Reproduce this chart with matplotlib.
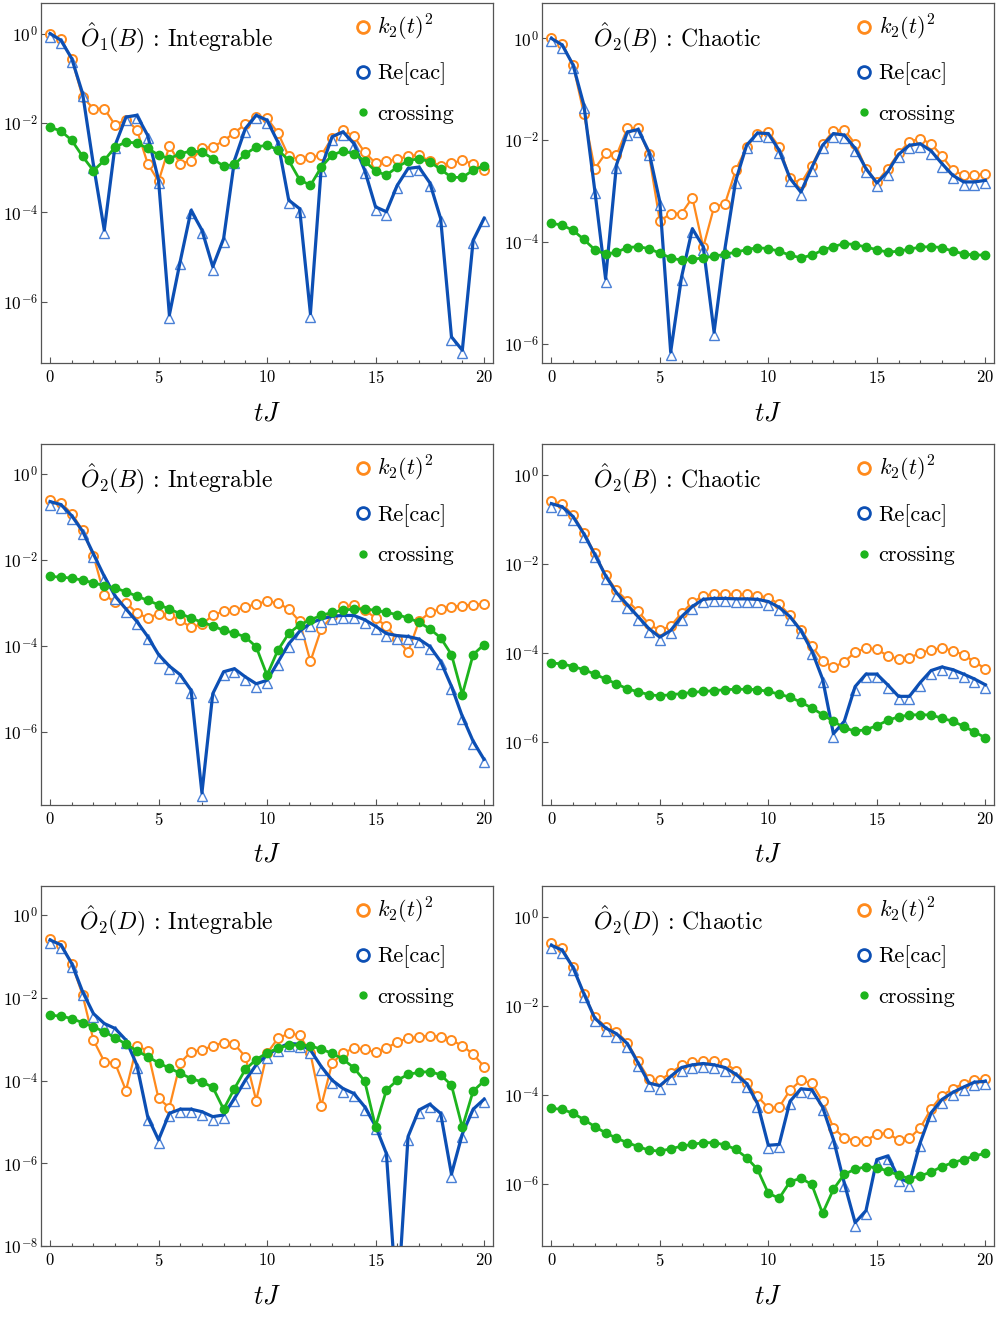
import numpy as np
import matplotlib
matplotlib.use("Agg")
import matplotlib.pyplot as plt
from matplotlib.lines import Line2D
from matplotlib.ticker import MultipleLocator, FixedLocator, LogFormatterMathtext, NullLocator
import matplotlib.transforms as mtransforms

plt.rcParams.update({
    "font.family": "serif",
    "font.serif": ["cmr10"],
    "mathtext.fontset": "cm",
    "axes.formatter.use_mathtext": True,
    "axes.unicode_minus": False,
})

# time grid tJ
t = [0.0, 0.5, 1.0, 1.5, 2.0, 2.5, 3.0, 3.5, 4.0, 4.5,
     5.0, 5.5, 6.0, 6.5, 7.0, 7.5, 8.0, 8.5, 9.0, 9.5,
     10.0, 10.5, 11.0, 11.5, 12.0, 12.5, 13.0, 13.5, 14.0, 14.5,
     15.0, 15.5, 16.0, 16.5, 17.0, 17.5, 18.0, 18.5, 19.0, 19.5, 20.0]

# values stored as log10 of the plotted quantity
p1_k2 = [0.0, -0.13, -0.56, -1.42, -1.68, -1.68, -2.05, -1.93, -2.15, -2.91,
         -3.31, -2.52, -2.91, -2.85, -2.56, -2.54, -2.40, -2.22, -2.03, -1.87,
         -1.90, -2.22, -2.75, -2.81, -2.77, -2.73, -2.33, -2.16, -2.30, -2.66,
         -2.90, -2.85, -2.82, -2.74, -2.72, -2.86, -2.96, -2.90, -2.84, -2.92, -3.06]
p1_cac = [0.0, -0.15, -0.56, -1.34, -2.94, -4.40, -2.50, -1.87, -1.83, -2.28,
          -3.28, -6.30, -5.10, -3.96, -4.40, -5.22, -4.59, -2.84, -2.13, -1.83,
          -1.94, -2.43, -3.73, -3.92, -6.27, -3.00, -2.31, -2.20, -2.46, -3.06,
          -3.88, -3.99, -3.40, -3.02, -2.99, -3.34, -4.14, -6.79, -7.09, -4.63, -4.14]
p1_cross = [-2.10, -2.18, -2.39, -2.75, -3.07, -2.84, -2.54, -2.43, -2.45, -2.57,
            -2.72, -2.80, -2.69, -2.63, -2.65, -2.80, -2.97, -2.93, -2.70, -2.54,
            -2.50, -2.60, -2.84, -3.27, -3.40, -2.99, -2.72, -2.63, -2.69, -2.85,
            -3.08, -3.17, -2.99, -2.85, -2.80, -2.87, -3.04, -3.22, -3.22, -3.06, -2.96]

p2_k2 = [0.0, -0.12, -0.52, -1.48, -2.56, -2.26, -2.30, -1.77, -1.76, -2.28,
         -3.59, -3.44, -3.44, -3.13, -4.10, -3.31, -3.25, -2.59, -2.13, -1.87,
         -1.84, -2.13, -2.75, -2.85, -2.50, -2.08, -1.82, -1.80, -2.07, -2.56,
         -2.82, -2.56, -2.26, -2.03, -1.97, -2.07, -2.31, -2.59, -2.69, -2.69, -2.66]
p2_cac = [0.0, -0.13, -0.52, -1.31, -2.98, -4.72, -2.49, -1.84, -1.79, -2.23,
          -3.21, -6.16, -4.69, -3.74, -4.09, -5.77, -4.13, -2.79, -2.10, -1.86,
          -1.87, -2.20, -2.75, -3.02, -2.54, -2.10, -1.87, -1.90, -2.16, -2.56,
          -2.84, -2.62, -2.28, -2.10, -2.07, -2.21, -2.46, -2.69, -2.82, -2.82, -2.79]
p2_cross = [-3.63, -3.67, -3.77, -3.95, -4.15, -4.24, -4.20, -4.11, -4.09, -4.13,
            -4.22, -4.31, -4.36, -4.34, -4.31, -4.28, -4.24, -4.20, -4.15, -4.11,
            -4.13, -4.18, -4.26, -4.31, -4.26, -4.16, -4.09, -4.03, -4.05, -4.10,
            -4.15, -4.20, -4.18, -4.14, -4.10, -4.09, -4.11, -4.18, -4.23, -4.26, -4.25]

p3_k2 = [-0.60, -0.67, -0.92, -1.31, -1.90, -2.81, -2.98, -3.00, -3.23, -3.35,
         -3.25, -3.27, -3.40, -3.57, -3.49, -3.29, -3.19, -3.16, -3.10, -3.02,
         -2.96, -3.00, -3.14, -3.43, -4.36, -3.60, -3.31, -3.08, -3.05, -3.16,
         -3.35, -3.54, -3.84, -4.14, -3.43, -3.22, -3.14, -3.09, -3.06, -3.04, -3.02]
p3_cac = [-0.64, -0.71, -0.97, -1.33, -1.86, -2.38, -2.84, -3.14, -3.43, -3.78,
          -4.20, -4.47, -4.67, -5.03, -7.42, -5.11, -4.60, -4.53, -4.72, -4.88,
          -4.80, -4.38, -3.95, -3.66, -3.47, -3.37, -3.31, -3.29, -3.29, -3.39,
          -3.54, -3.71, -3.76, -3.78, -3.84, -4.01, -4.36, -4.94, -5.64, -6.22, -6.64]
p3_cross = [-2.38, -2.40, -2.42, -2.47, -2.53, -2.60, -2.65, -2.74, -2.84, -2.94,
            -3.04, -3.14, -3.25, -3.35, -3.45, -3.53, -3.64, -3.70, -3.79, -4.02,
            -4.68, -4.10, -3.71, -3.51, -3.39, -3.29, -3.22, -3.17, -3.14, -3.14,
            -3.17, -3.22, -3.27, -3.35, -3.45, -3.60, -3.81, -4.20, -5.13, -4.20, -3.97]

p4_k2 = [-0.58, -0.65, -0.90, -1.29, -1.76, -2.24, -2.59, -2.82, -3.06, -3.35,
         -3.49, -3.39, -3.10, -2.86, -2.71, -2.67, -2.67, -2.68, -2.68, -2.71,
         -2.75, -2.90, -3.15, -3.48, -3.83, -4.17, -4.32, -4.19, -3.98, -3.89,
         -3.91, -4.06, -4.13, -4.10, -4.00, -3.92, -3.89, -3.94, -4.04, -4.19, -4.35]
p4_cac = [-0.64, -0.71, -0.93, -1.32, -1.78, -2.26, -2.64, -2.91, -3.18, -3.45,
          -3.64, -3.49, -3.18, -2.95, -2.79, -2.77, -2.77, -2.78, -2.78, -2.79,
          -2.84, -2.97, -3.18, -3.49, -3.94, -4.58, -5.81, -5.53, -4.75, -4.47,
          -4.47, -4.71, -4.97, -4.97, -4.66, -4.39, -4.31, -4.37, -4.47, -4.58, -4.71]
p4_cross = [-4.22, -4.24, -4.30, -4.37, -4.47, -4.58, -4.69, -4.80, -4.87, -4.93,
            -4.96, -4.93, -4.91, -4.88, -4.86, -4.84, -4.82, -4.81, -4.81, -4.82,
            -4.86, -4.92, -4.99, -5.10, -5.23, -5.38, -5.53, -5.68, -5.75, -5.72,
            -5.63, -5.51, -5.43, -5.39, -5.38, -5.39, -5.46, -5.53, -5.64, -5.77, -5.90]

p5_k2 = [-0.58, -0.72, -1.17, -1.93, -3.02, -3.54, -3.58, -4.24, -3.16, -3.28,
         -4.43, -4.65, -3.57, -3.30, -3.26, -3.16, -3.08, -3.12, -3.42, -4.48,
         -3.34, -2.98, -2.86, -2.90, -3.34, -4.61, -3.58, -3.33, -3.22, -3.24,
         -3.32, -3.22, -3.06, -2.98, -2.94, -2.91, -2.94, -3.02, -3.16, -3.36, -3.66]
p5_cac = [-0.60, -0.72, -1.17, -1.85, -2.38, -2.62, -2.74, -3.02, -3.62, -4.87,
          -5.43, -4.79, -4.69, -4.69, -4.75, -4.87, -4.83, -4.43, -3.99, -3.62,
          -3.38, -3.22, -3.10, -3.12, -3.26, -3.66, -3.99, -4.19, -4.31, -4.63,
          -5.10, -5.76, -9.50, -5.35, -4.71, -4.57, -4.79, -6.26, -5.29, -4.69, -4.45]
p5_cross = [-2.42, -2.44, -2.50, -2.60, -2.70, -2.82, -2.96, -3.12, -3.28, -3.42,
            -3.57, -3.70, -3.82, -3.95, -4.03, -4.16, -4.69, -4.19, -3.73, -3.49,
            -3.33, -3.22, -3.14, -3.14, -3.16, -3.24, -3.34, -3.48, -3.69, -4.01,
            -5.11, -4.23, -3.99, -3.85, -3.80, -3.78, -3.86, -4.11, -5.13, -4.25, -4.01]

p6_k2 = [-0.58, -0.71, -1.14, -1.73, -2.25, -2.47, -2.58, -2.83, -3.25, -3.65,
         -3.68, -3.51, -3.34, -3.27, -3.24, -3.24, -3.29, -3.46, -3.74, -4.04,
         -4.30, -4.28, -3.90, -3.68, -3.74, -4.15, -4.75, -4.97, -5.04, -5.04,
         -4.88, -4.87, -5.02, -4.98, -4.75, -4.32, -4.02, -3.87, -3.75, -3.66, -3.65]
p6_cac = [-0.64, -0.75, -1.14, -1.73, -2.28, -2.50, -2.63, -2.85, -3.29, -3.74,
          -3.80, -3.59, -3.39, -3.33, -3.30, -3.33, -3.39, -3.54, -3.75, -4.20,
          -5.14, -5.12, -4.15, -3.87, -3.89, -4.28, -5.01, -5.99, -6.88, -6.61,
          -5.46, -5.38, -5.87, -5.98, -5.08, -4.41, -4.11, -3.95, -3.83, -3.72, -3.70]
p6_cross = [-4.31, -4.33, -4.42, -4.56, -4.72, -4.86, -4.98, -5.08, -5.17, -5.25,
            -5.27, -5.22, -5.16, -5.12, -5.08, -5.08, -5.13, -5.23, -5.42, -5.68,
            -6.22, -6.33, -5.96, -5.88, -6.02, -6.67, -6.13, -5.79, -5.68, -5.62,
            -5.64, -5.72, -5.81, -5.89, -5.83, -5.74, -5.62, -5.53, -5.46, -5.38, -5.32]

titles = [r"$\hat{O}_1(B)$ : Integrable", r"$\hat{O}_2(B)$ : Chaotic",
          r"$\hat{O}_2(B)$ : Integrable", r"$\hat{O}_2(B)$ : Chaotic",
          r"$\hat{O}_2(D)$ : Integrable", r"$\hat{O}_2(D)$ : Chaotic"]
legend_labels = [r"$k_2(t)^2$", "Re[cac]", "crossing"]
xtick_vals = [0, 5, 10, 15, 20]
ytick_exps = [[0, -2, -4, -6], [0, -2, -4, -6], [0, -2, -4, -6],
              [0, -2, -4, -6], [0, -2, -4, -6, -8], [0, -2, -4, -6]]
ylim_exps = [(-7.38, 0.69), (-6.38, 0.70), (-7.69, 0.70),
             (-7.40, 0.70), (-8.0, 0.71), (-7.41, 0.70)]

series = [(p1_k2, p1_cac, p1_cross), (p2_k2, p2_cac, p2_cross),
          (p3_k2, p3_cac, p3_cross), (p4_k2, p4_cac, p4_cross),
          (p5_k2, p5_cac, p5_cross), (p6_k2, p6_cac, p6_cross)]

ORANGE = "#ff8a1c"
BLUE = "#0c4fb4"
TRI = "#4a80d6"
GREEN = "#1db41d"
SPINE = "#555555"

fig = plt.figure(figsize=(9.97, 13.23), dpi=100)
W, H = 997.0, 1323.0
lefts = [40.7 / W, 542.0 / W]
width = 452.0 / W
tops = [2.7, 444.0, 885.7]
height = 360.5 / H

tt = np.array(t)
for i, (k2, cac, cross) in enumerate(series):
    row, col = divmod(i, 2)
    ax = fig.add_axes([lefts[col], 1 - (tops[row] + 360.5) / H, width, height])
    ax.set_yscale("log")
    ax.plot(tt, 10.0 ** np.array(k2), "-o", color=ORANGE, lw=1.6, ms=6.5,
            mfc="white", mec=ORANGE, mew=1.4, zorder=2)
    tr = mtransforms.offset_copy(ax.transData, fig=fig, x=0, y=-3, units="dots")
    ax.plot(tt, 10.0 ** np.array(cac), ls="none", marker="^", ms=6.5, mfc="white",
            mec=TRI, mew=1.0, transform=tr, zorder=2.5)
    ax.plot(tt, 10.0 ** np.array(cac), "-", color=BLUE, lw=2.3, zorder=3)
    ax.plot(tt, 10.0 ** np.array(cross), "-o", color=GREEN, lw=2.0, ms=6,
            mec=GREEN, zorder=4)

    ax.set_xlim(-0.43, 20.4)
    lo, hi = ylim_exps[i]
    ax.set_ylim(10.0 ** lo, 10.0 ** hi)
    ax.xaxis.set_major_locator(FixedLocator(xtick_vals))
    ax.xaxis.set_minor_locator(MultipleLocator(1))
    ax.yaxis.set_major_locator(FixedLocator(10.0 ** np.array(ytick_exps[i], dtype=float)))
    ax.yaxis.set_minor_locator(NullLocator())
    ax.yaxis.set_major_formatter(LogFormatterMathtext())
    ax.tick_params(axis="both", which="both", direction="in", top=False, right=False,
                   color=SPINE, labelcolor="black")
    ax.tick_params(axis="x", which="major", length=4.3, width=0.8, pad=4.5, labelsize=12)
    ax.tick_params(axis="x", which="minor", length=2.4, width=0.8)
    ax.tick_params(axis="y", which="major", length=4.1, width=0.8, pad=2, labelsize=12.5)
    for sp in ax.spines.values():
        sp.set_color(SPINE)
        sp.set_linewidth(0.9)
    ax.set_xlabel(r"$tJ$", fontsize=19, labelpad=11)

    ax.text(0.30, 0.903, titles[i], transform=ax.transAxes, ha="center", va="center",
            fontsize=17)

    handles = [Line2D([], [], ls="none", marker="o", ms=8.5, mfc="none", mec=ORANGE, mew=2.0),
               Line2D([], [], ls="none", marker="o", ms=8.5, mfc="none", mec=BLUE, mew=2.0),
               Line2D([], [], ls="none", marker="o", ms=5, mfc=GREEN, mec=GREEN)]
    ax.legend(handles, legend_labels, loc="upper left", bbox_to_anchor=(0.688, 0.971),
              frameon=False, fontsize=16, handlelength=1.0, handletextpad=0.15,
              labelspacing=0.87, borderpad=0, borderaxespad=0)

fig.savefig("out.png", dpi=100)
